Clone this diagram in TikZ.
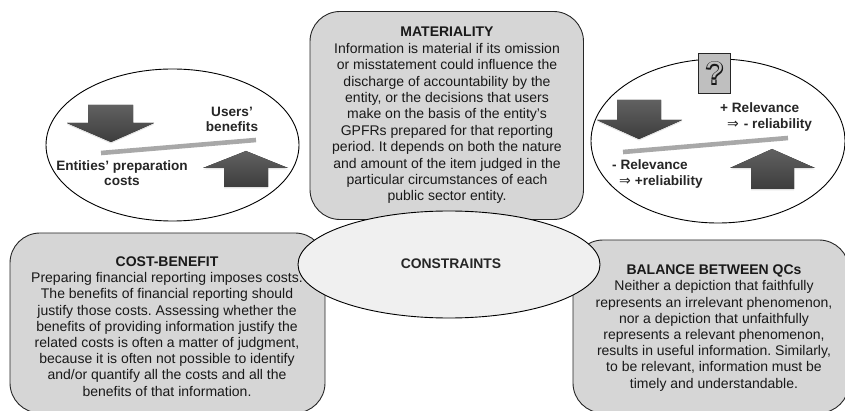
\documentclass[tikz,border=0pt]{standalone}
\usepackage{fontspec}
\setmainfont{Liberation Sans}
\newfontfamily\arrfont{DejaVu Sans}
\newfontfamily\qthin{Liberation Sans}
\newfontfamily\qfat[FakeBold=7]{Liberation Sans}
\usetikzlibrary{shapes.geometric,shadows}
\frenchspacing
\definecolor{boxgray}{gray}{0.84}
\definecolor{ellgray}{gray}{0.94}
\definecolor{beamgray}{gray}{0.66}
\definecolor{arrdark}{gray}{0.24}
\definecolor{arrmid}{gray}{0.38}
\definecolor{qgray}{gray}{0.75}
\tikzset{
  x=1pt,y=-1pt,
  panel/.style={draw=black!85,line width=0.9pt,fill=boxgray,rounded corners=30pt},
  bubble/.style={draw=black,line width=0.9pt,fill=white,ellipse,inner sep=0pt},
  body/.style={font=\fontsize{14}{16.2}\selectfont,align=center,inner sep=0pt,text=black!90},
  lab/.style={font=\fontsize{13.6}{15}\selectfont\bfseries,align=center,inner sep=0pt,text=black!85},
  beam/.style={line width=4.6pt,draw=beamgray,drop shadow={opacity=.2,shadow xshift=0pt,shadow yshift=-1.2pt}},
  fatarrow/.style={top color=arrmid,bottom color=arrdark,draw=none,drop shadow={opacity=.22,shadow xshift=0pt,shadow yshift=-1.5pt}},
}
\newcommand{\impl}{{\arrfont\fontsize{14}{15}\selectfont\mdseries ⇒}}
\begin{document}
\begin{tikzpicture}
\useasboundingbox (0,0) rectangle (845,411);
% panels
\draw[panel] (310,11.5) rectangle (583.5,219.5);
\draw[panel] (10,233) rectangle (325,413);
\draw[panel] (573,240) rectangle (849,413);
% bubbles
\node[bubble,minimum width=253pt,minimum height=152pt] (L) at (172.5,145) {};
\node[bubble,minimum width=254pt,minimum height=164pt] (R) at (718,141) {};
\node[bubble,fill=ellgray,minimum width=302pt,minimum height=107pt] (C) at (449,264.5) {};
% left balance
\fill[fatarrow] (88,105) -- (133,105) -- (133,123) -- (154,123) -- (111,142) -- (67,123) -- (88,123) -- cycle;
\fill[fatarrow] (224,187) -- (268,187) -- (268,168) -- (288,168) -- (246,151) -- (203,168) -- (224,168) -- cycle;
\coordinate (la) at (101,153);
\coordinate (lb) at (256,140);
\draw[beam] (la) -- (lb);
% right balance
\fill[fatarrow] (617,100) -- (661,100) -- (661,120) -- (682,120) -- (639,139) -- (597,120) -- (617,120) -- cycle;
\fill[fatarrow] (751,189) -- (794,189) -- (794,168) -- (815,168) -- (772,149) -- (730,168) -- (751,168) -- cycle;
\coordinate (ra) at (623,152);
\coordinate (rb) at (788,138);
\draw[beam] (ra) -- (rb);
% question box
\node[draw=black!85,line width=0.9pt,fill=qgray,minimum width=32pt,minimum height=40pt,inner sep=0pt,font=\fontsize{31}{31}\selectfont] (Q) at (714.5,73) {\rlap{\qfat\color{black!90}?}{\qthin\color{qgray}?}};
% labels
\node[lab] (ub) at (232,119.5) {Users’\\benefits};
\node[lab] (ep) at (122,173) {Entities’ preparation\\costs};
\node[lab,anchor=north west,align=left] (rp) at (720,102.5) {+ Relevance\\[0.5pt]\hspace{7pt}\impl\hspace{5pt}- reliability};
\node[lab,anchor=north west,align=left] (rm) at (612,159.5) {- Relevance\\[0.5pt]\hspace{7pt}\impl\hspace{4pt}+reliability};
\node[body,font=\fontsize{14}{16.4}\selectfont] (mt) at (447,115.5) {\textbf{MATERIALITY}\\Information is material if its omission\\or misstatement could influence the\\discharge of accountability by the\\entity, or the decisions that users\\make on the basis of the entity’s\\GPFRs prepared for that reporting\\period. It depends on both the nature\\and amount of the item judged in the\\particular circumstances of each\\public sector entity.};
\node[lab,font=\fontsize{13.9}{16}\selectfont\bfseries] (ct) at (451,264) {CONSTRAINTS};
\node[body] (cb) at (167,326.5) {\textbf{COST-BENEFIT}\\Preparing financial reporting imposes costs.\\The benefits of financial reporting should\\justify those costs. Assessing whether the\\benefits of providing information justify the\\related costs is often a matter of judgment,\\because it is often not possible to identify\\and/or quantify all the costs and all the\\benefits of that information.};
\node[body] (bq) at (714,328) {\textbf{BALANCE BETWEEN QCs}\\Neither a depiction that faithfully\\represents an irrelevant phenomenon,\\nor a depiction that unfaithfully\\represents a relevant phenomenon,\\results in useful information. Similarly,\\to be relevant, information must be\\timely and understandable.};
\end{tikzpicture}
\end{document}
